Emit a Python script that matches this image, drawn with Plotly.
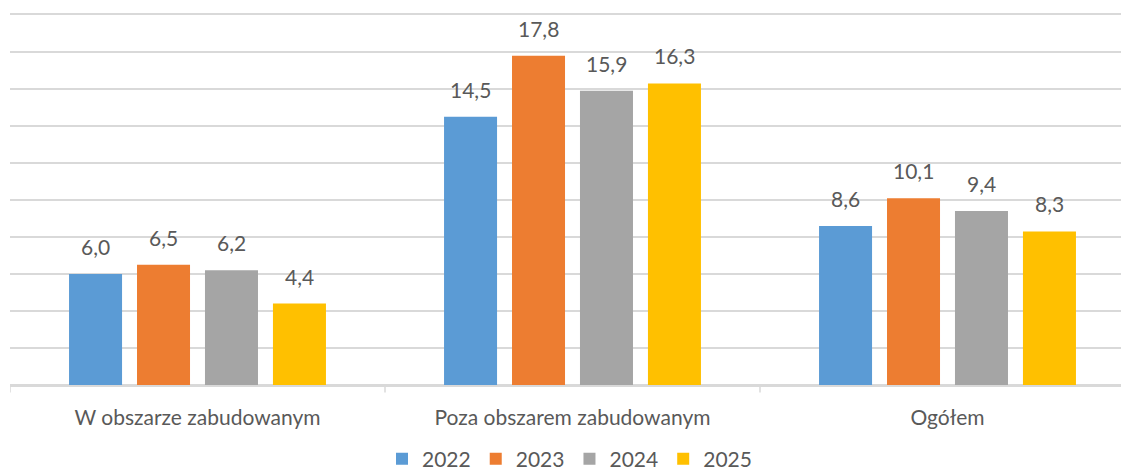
import plotly.graph_objects as go

categories = ["W obszarze zabudowanym", "Poza obszarem zabudowanym", "Ogółem"]
years = ["2022", "2023", "2024", "2025"]
values_2022 = [6.0, 14.5, 8.6]
values_2023 = [6.5, 17.8, 10.1]
values_2024 = [6.2, 15.9, 9.4]
values_2025 = [4.4, 16.3, 8.3]
colors = ["#5B9BD5", "#ED7D31", "#A5A5A5", "#FFC000"]

series = [values_2022, values_2023, values_2024, values_2025]

FONT = "Lato, Open Sans, sans-serif"
FS = 21
BARGAP = 0.275
fig = go.Figure()
for yr, vals, col in zip(years, series, colors):
    fig.add_trace(go.Bar(name=yr, x=list(range(len(categories))), y=vals,
                         marker=dict(color=col, line=dict(width=0))))

slot = (1 - BARGAP) / len(years)
annotations = []
for j, vals in enumerate(series):
    for i, v in enumerate(vals):
        annotations.append(dict(
            x=i + (j - (len(years) - 1) / 2) * slot, y=v, xref="x", yref="y",
            text=f"{v:.1f}".replace(".", ","), showarrow=False,
            yanchor="bottom", yshift=13,
            font=dict(family=FONT, size=FS, color="#595959")))

fig.update_layout(
    barmode="group", bargap=BARGAP, bargroupgap=0.22,
    width=1121, height=463,
    margin=dict(l=2, r=0, t=7, b=86, autoexpand=False),
    paper_bgcolor="white", plot_bgcolor="white",
    separators=", ",
    font=dict(family=FONT, size=FS, color="#595959"),
    annotations=annotations,
    legend=dict(orientation="h", x=0.5, xanchor="center", y=-0.2, yanchor="middle",
                font=dict(size=FS, color="#595959"), itemwidth=30, traceorder="normal"),
    xaxis=dict(type="linear", range=[-0.5, -0.5 + 1119 / 375],
               tickmode="array", tickvals=list(range(len(categories))), ticktext=categories,
               showgrid=False, zeroline=False, showline=True, mirror=True,
               linecolor="#D9D9D9", linewidth=1.5,
               ticks="", ticklabelstandoff=13,
               tickfont=dict(size=FS, color="#595959")),
    yaxis=dict(range=[0, 20], dtick=2, showticklabels=False, showgrid=True,
               gridcolor="#D9D9D9", gridwidth=1.5, zeroline=True, zerolinecolor="#D9D9D9",
               zerolinewidth=1.5, showline=False, fixedrange=True),
    showlegend=True,
)

# category boundary ticks derived from the category count
for b in range(len(categories)):
    fig.add_shape(type="line", xref="x", yref="paper", x0=b - 0.5, x1=b - 0.5,
                  y0=0, y1=-0.02, line=dict(color="#D9D9D9", width=1.5))

fig.write_html("out.html")
